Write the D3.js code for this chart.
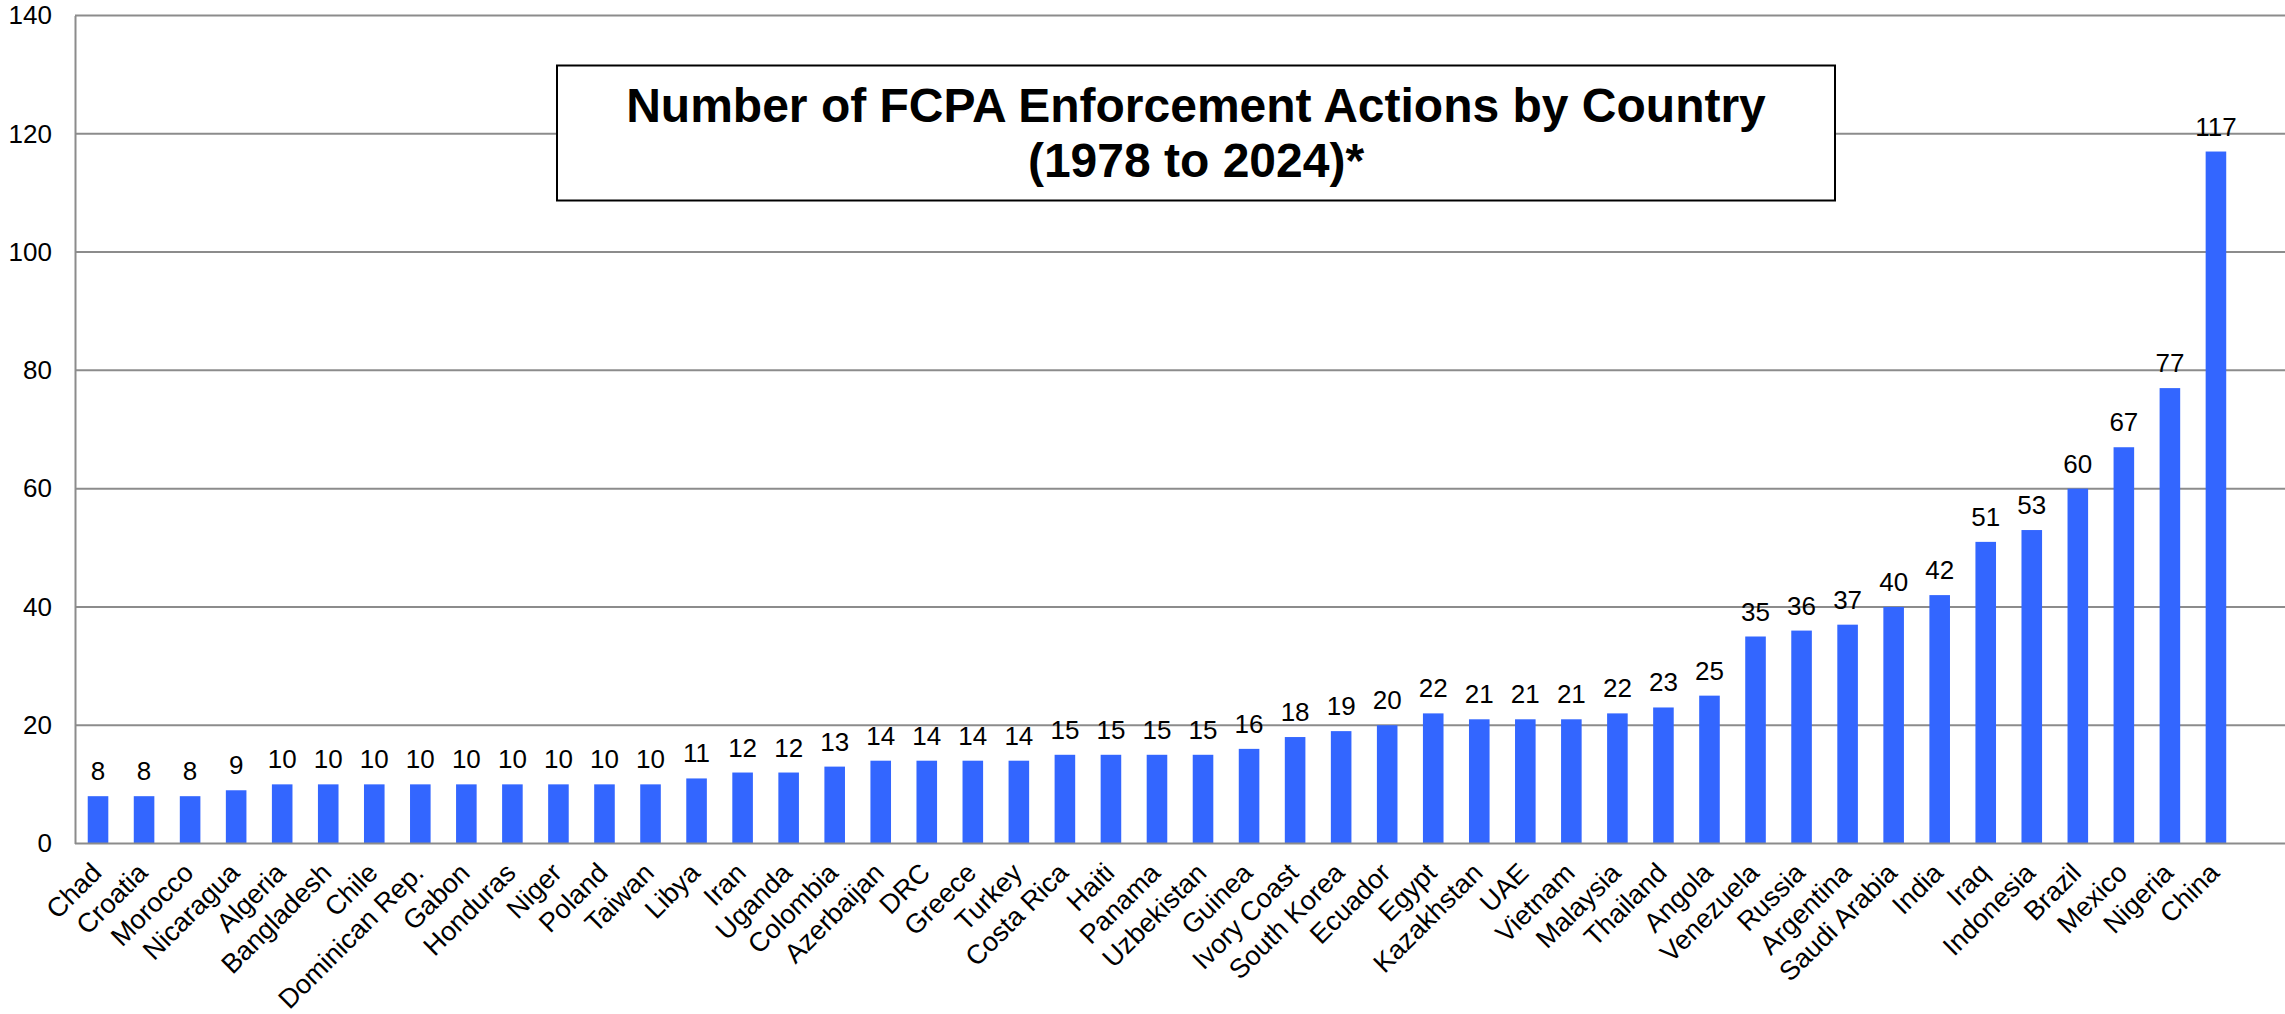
<!DOCTYPE html>
<html>
<head>
<meta charset="utf-8">
<script src="https://cdn.jsdelivr.net/npm/d3@7"></script>
<style>
  html, body { margin: 0; padding: 0; background: #ffffff; }
  svg { display: block; }
  text { font-family: "Liberation Sans", Arial, sans-serif; }
</style>
</head>
<body>
<svg id="chart" width="2285" height="1014"></svg>
<script>
const countries = ["Chad","Croatia","Morocco","Nicaragua","Algeria","Bangladesh","Chile","Dominican Rep.","Gabon","Honduras","Niger","Poland","Taiwan","Libya","Iran","Uganda","Colombia","Azerbaijan","DRC","Greece","Turkey","Costa Rica","Haiti","Panama","Uzbekistan","Guinea","Ivory Coast","South Korea","Ecuador","Egypt","Kazakhstan","UAE","Vietnam","Malaysia","Thailand","Angola","Venezuela","Russia","Argentina","Saudi Arabia","India","Iraq","Indonesia","Brazil","Mexico","Nigeria","China"];
const actions = [8,8,8,9,10,10,10,10,10,10,10,10,10,11,12,12,13,14,14,14,14,15,15,15,15,16,18,19,20,22,21,21,21,22,23,25,35,36,37,40,42,51,53,60,67,77,117];
const yTicks = [0,20,40,60,80,100,120,140];
const titleLines = ["Number of FCPA Enforcement Actions by Country", "(1978 to 2024)*"];

const svg = d3.select("#chart");
const plotLeft = 75, plotRight = 2285, plotTop = 15.5, plotBottom = 843.5;
const slotCount = countries.length + 1; // plot area leaves one empty slot on the right
const slot = (plotRight - plotLeft) / slotCount;

const x = d3.scaleBand()
  .domain(countries)
  .range([plotLeft, plotLeft + slot * countries.length])
  .paddingInner(0.553)
  .paddingOuter(0.2765);

const y = d3.scaleLinear().domain([0, 140]).range([plotBottom, plotTop]);

// gridlines
svg.append("g")
  .selectAll("line")
  .data(yTicks.filter(d => d > 0))
  .join("line")
  .attr("x1", plotLeft).attr("x2", plotRight)
  .attr("y1", d => y(d)).attr("y2", d => y(d))
  .attr("stroke", "#8c8c8c").attr("stroke-width", 2);

// y axis
const yAxis = d3.axisLeft(y).tickValues(yTicks).tickSize(0).tickPadding(23);
const gy = svg.append("g").attr("transform", `translate(${plotLeft},0)`).call(yAxis);
gy.select(".domain").attr("stroke", "#8c8c8c").attr("stroke-width", 2);
gy.selectAll("text").attr("font-size", 26).attr("fill", "#000")
  .attr("font-family", "'Liberation Sans', Arial, sans-serif");

// bars
svg.append("g")
  .selectAll("rect")
  .data(countries)
  .join("rect")
  .attr("x", d => x(d))
  .attr("width", x.bandwidth())
  .attr("y", (d, i) => y(actions[i]))
  .attr("height", (d, i) => y(0) - y(actions[i]))
  .attr("fill", "#3366ff");

// x axis line
const xAxis = d3.axisBottom(x).tickSize(0).tickFormat("");
const gx = svg.append("g").attr("transform", `translate(0,${plotBottom})`).call(xAxis);
gx.select(".domain").remove();
svg.append("line")
  .attr("x1", plotLeft).attr("x2", plotRight)
  .attr("y1", plotBottom).attr("y2", plotBottom)
  .attr("stroke", "#8c8c8c").attr("stroke-width", 2);

// x labels rotated
svg.append("g")
  .selectAll("text")
  .data(countries)
  .join("text")
  .attr("transform", d => `translate(${x(d) + x.bandwidth() / 2 + 5},${plotBottom + 31}) rotate(-45)`)
  .attr("text-anchor", "end")
  .attr("font-size", 27)
  .attr("fill", "#000")
  .text(d => d);

// value labels
svg.append("g")
  .selectAll("text")
  .data(countries)
  .join("text")
  .attr("x", d => x(d) + x.bandwidth() / 2)
  .attr("y", (d, i) => y(actions[i]) - 16)
  .attr("text-anchor", "middle")
  .attr("font-size", 26)
  .attr("fill", "#000")
  .text((d, i) => actions[i]);

// title box
const tg = svg.append("g");
tg.append("rect")
  .attr("x", 557).attr("y", 65.5).attr("width", 1278).attr("height", 135)
  .attr("fill", "#fff").attr("stroke", "#000").attr("stroke-width", 2);
tg.selectAll("text")
  .data(titleLines)
  .join("text")
  .attr("x", 1196)
  .attr("y", (d, i) => 122 + i * 55)
  .attr("text-anchor", "middle")
  .attr("font-size", 48)
  .attr("font-weight", "bold")
  .attr("fill", "#000")
  .text(d => d);
</script>
</body>
</html>
